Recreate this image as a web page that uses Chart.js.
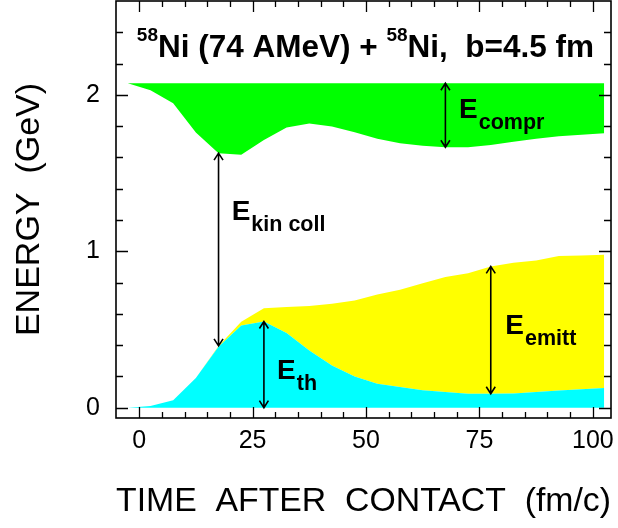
<!DOCTYPE html>
<html>
<head>
<meta charset="utf-8">
<script src="https://cdn.jsdelivr.net/npm/chart.js@4.4.0/dist/chart.umd.min.js"></script>
<style>
  html, body { margin: 0; padding: 0; background: #fff; }
  #wrap { width: 618px; height: 528px; }
</style>
</head>
<body>
<div id="wrap"><canvas id="energyChart" width="618" height="528"></canvas></div>
<script>
// Time after contact (fm/c), one sample every 5 fm/c
const timeSteps = [-2.5, 2.5, 7.5, 12.5, 17.5, 22.5, 27.5, 32.5, 37.5, 42.5, 47.5,
                   52.5, 57.5, 62.5, 67.5, 72.5, 77.5, 82.5, 87.5, 92.5, 97.5, 102.5];

// Energy sharing in GeV
const eTotal = 2.074;
const eThermal = [0, 0.01, 0.047, 0.19, 0.39, 0.526, 0.551, 0.478, 0.366, 0.27, 0.2,
                  0.153, 0.132, 0.111, 0.1, 0.089, 0.089, 0.091, 0.1, 0.11, 0.118, 0.125];
const eEmitted = [0, 0, 0, 0, 0.005, 0.024, 0.084, 0.165, 0.284, 0.394, 0.486,
                  0.571, 0.622, 0.685, 0.735, 0.771, 0.814, 0.835, 0.841, 0.859, 0.855, 0.852];
const eCompression = [0, 0.044, 0.128, 0.314, 0.447, 0.457, 0.362, 0.283, 0.257, 0.277, 0.313,
                      0.355, 0.383, 0.399, 0.409, 0.409, 0.394, 0.374, 0.354, 0.339, 0.329, 0.319];

// Axis ticks
const xMajorTicks = [0, 25, 50, 75, 100];
const xMinorStep = 5;
const yMajorTicks = [0, 1, 2];
const yMinorStep = 0.2;

const FONT = "'Liberation Sans', Arial, Helvetica, sans-serif";

// Band boundaries stacked from the components
const thermalTop = eThermal.slice();
const emittedTop = eThermal.map((v, i) => v + eEmitted[i]);
const comprLower = eCompression.map(v => eTotal - v);
const totalLine = timeSteps.map(() => eTotal);
const zeroLine = timeSteps.map(() => 0);

const toPoints = arr => timeSteps.map((t, i) => ({ x: t, y: arr[i] }));

// Double-headed arrows spanning each energy band
const arrowSpecs = [
    { t: 67.5, lower: comprLower, upper: totalLine },
    { t: 17.5, lower: emittedTop, upper: comprLower },
    { t: 27.5, lower: zeroLine, upper: thermalTop },
    { t: 77.5, lower: thermalTop, upper: emittedTop }
];

// Band labels, anchored in data coordinates (left edge, baseline)
const bandLabels = [
    { sub: 'compr', t: 70.5, v: 1.855 },
    { sub: 'kin coll', t: 20.4, v: 1.197 },
    { sub: 'th', t: 30.4, v: 0.185 },
    { sub: 'emitt', t: 80.7, v: 0.473 }
];

const titlePieces = [
    { text: '58', sup: true },
    { text: 'Ni (74 AMeV) + ' },
    { text: '58', sup: true },
    { text: 'Ni,  b=4.5 fm' }
];

function lineDataset(arr, fill, color) {
    return {
        data: toPoints(arr),
        fill: fill,
        backgroundColor: color,
        borderColor: 'transparent',
        borderWidth: 0,
        pointRadius: 0,
        tension: 0
    };
}

// Frame with inward ticks on all four sides
const framePlugin = {
    id: 'frame',
    afterDatasetsDraw(chart) {
        const { ctx, chartArea: a, scales: { x, y } } = chart;
        ctx.save();
        ctx.strokeStyle = '#000';
        ctx.lineWidth = 1.6;
        ctx.strokeRect(a.left, a.top, a.right - a.left, a.bottom - a.top);
        ctx.lineWidth = 1.3;
        ctx.beginPath();
        for (let v = 0; v <= x.max; v += xMinorStep) {
            const px = Math.round(x.getPixelForValue(v)) + 0.5;
            const len = xMajorTicks.includes(v) ? 11 : 6;
            ctx.moveTo(px, a.bottom); ctx.lineTo(px, a.bottom - len);
            ctx.moveTo(px, a.top); ctx.lineTo(px, a.top + len);
        }
        for (let k = 0; k * yMinorStep < y.max - 0.01; k++) {
            const v = +(k * yMinorStep).toFixed(2);
            const py = Math.round(y.getPixelForValue(v)) + 0.5;
            const len = yMajorTicks.includes(v) ? 12 : 7;
            ctx.moveTo(a.left, py); ctx.lineTo(a.left + len, py);
            ctx.moveTo(a.right, py); ctx.lineTo(a.right - len, py);
        }
        ctx.stroke();
        ctx.restore();
    }
};

const annotationPlugin = {
    id: 'bandNotes',
    afterDatasetsDraw(chart) {
        const { ctx, scales: { x, y } } = chart;
        ctx.save();
        ctx.strokeStyle = '#000';
        ctx.fillStyle = '#000';
        ctx.lineWidth = 1.6;

        arrowSpecs.forEach(spec => {
            const i = timeSteps.indexOf(spec.t);
            const px = x.getPixelForValue(spec.t);
            const y0 = y.getPixelForValue(spec.lower[i]);
            const y1 = y.getPixelForValue(spec.upper[i]);
            ctx.beginPath();
            ctx.moveTo(px, y0); ctx.lineTo(px, y1);
            // open arrow heads
            ctx.moveTo(px - 4.5, y1 + 7); ctx.lineTo(px, y1); ctx.lineTo(px + 4.5, y1 + 7);
            ctx.moveTo(px - 4.5, y0 - 7); ctx.lineTo(px, y0); ctx.lineTo(px + 4.5, y0 - 7);
            ctx.stroke();
        });

        ctx.textBaseline = 'alphabetic';
        ctx.textAlign = 'left';
        bandLabels.forEach(l => {
            const px = x.getPixelForValue(l.t);
            const py = y.getPixelForValue(l.v);
            ctx.font = 'bold 28px ' + FONT;
            ctx.fillText('E', px, py);
            const w = ctx.measureText('E').width;
            ctx.font = 'bold 21.5px ' + FONT;
            ctx.fillText(l.sub, px + w + 1, py + 11);
        });

        // reaction title
        let tx = x.getPixelForValue(-0.5);
        const ty = y.getPixelForValue(2.245);
        titlePieces.forEach(p => {
            ctx.font = p.sup ? 'bold 19px ' + FONT : 'bold 31.5px ' + FONT;
            ctx.fillText(p.text, tx, p.sup ? ty - 16 : ty);
            tx += ctx.measureText(p.text).width;
        });
        ctx.restore();
    }
};

new Chart(document.getElementById('energyChart'), {
    type: 'line',
    data: {
        datasets: [
            lineDataset(thermalTop, 'origin', '#00ffff'),
            lineDataset(emittedTop, '-1', '#ffff00'),
            lineDataset(comprLower, false, 'transparent'),
            lineDataset(totalLine, '-1', '#00ff00')
        ]
    },
    options: {
        responsive: false,
        animation: false,
        layout: { padding: { top: 1, right: 7, left: 0, bottom: 0 } },
        plugins: { legend: { display: false }, tooltip: { enabled: false } },
        scales: {
            x: {
                type: 'linear',
                min: -5.1,
                max: 104,
                afterBuildTicks: s => { s.ticks = xMajorTicks.map(v => ({ value: v })); },
                afterFit: s => { s.height = 110; s.paddingLeft = 0; s.paddingRight = 0; },
                grid: { display: false, drawTicks: false },
                border: { display: false },
                ticks: { font: { family: FONT, size: 25 }, color: '#000', padding: 8, maxRotation: 0, autoSkip: false },
                title: {
                    display: true,
                    text: 'TIME  AFTER  CONTACT  (fm/c)',
                    font: { family: FONT, size: 34 },
                    color: '#000',
                    padding: { top: 0, bottom: 6 }
                }
            },
            y: {
                type: 'linear',
                min: -0.066,
                max: 2.6,
                afterBuildTicks: s => { s.ticks = yMajorTicks.map(v => ({ value: v })); },
                afterFit: s => { s.width = 116; s.paddingTop = 0; s.paddingBottom = 0; },
                grid: { display: false, drawTicks: false },
                border: { display: false },
                ticks: { font: { family: FONT, size: 25 }, color: '#000', padding: 16 },
                title: {
                    display: true,
                    text: 'ENERGY  (GeV)',
                    font: { family: FONT, size: 34 },
                    color: '#000',
                    padding: { top: 9, bottom: 0 }
                }
            }
        }
    },
    plugins: [framePlugin, annotationPlugin]
});
</script>
</body>
</html>
